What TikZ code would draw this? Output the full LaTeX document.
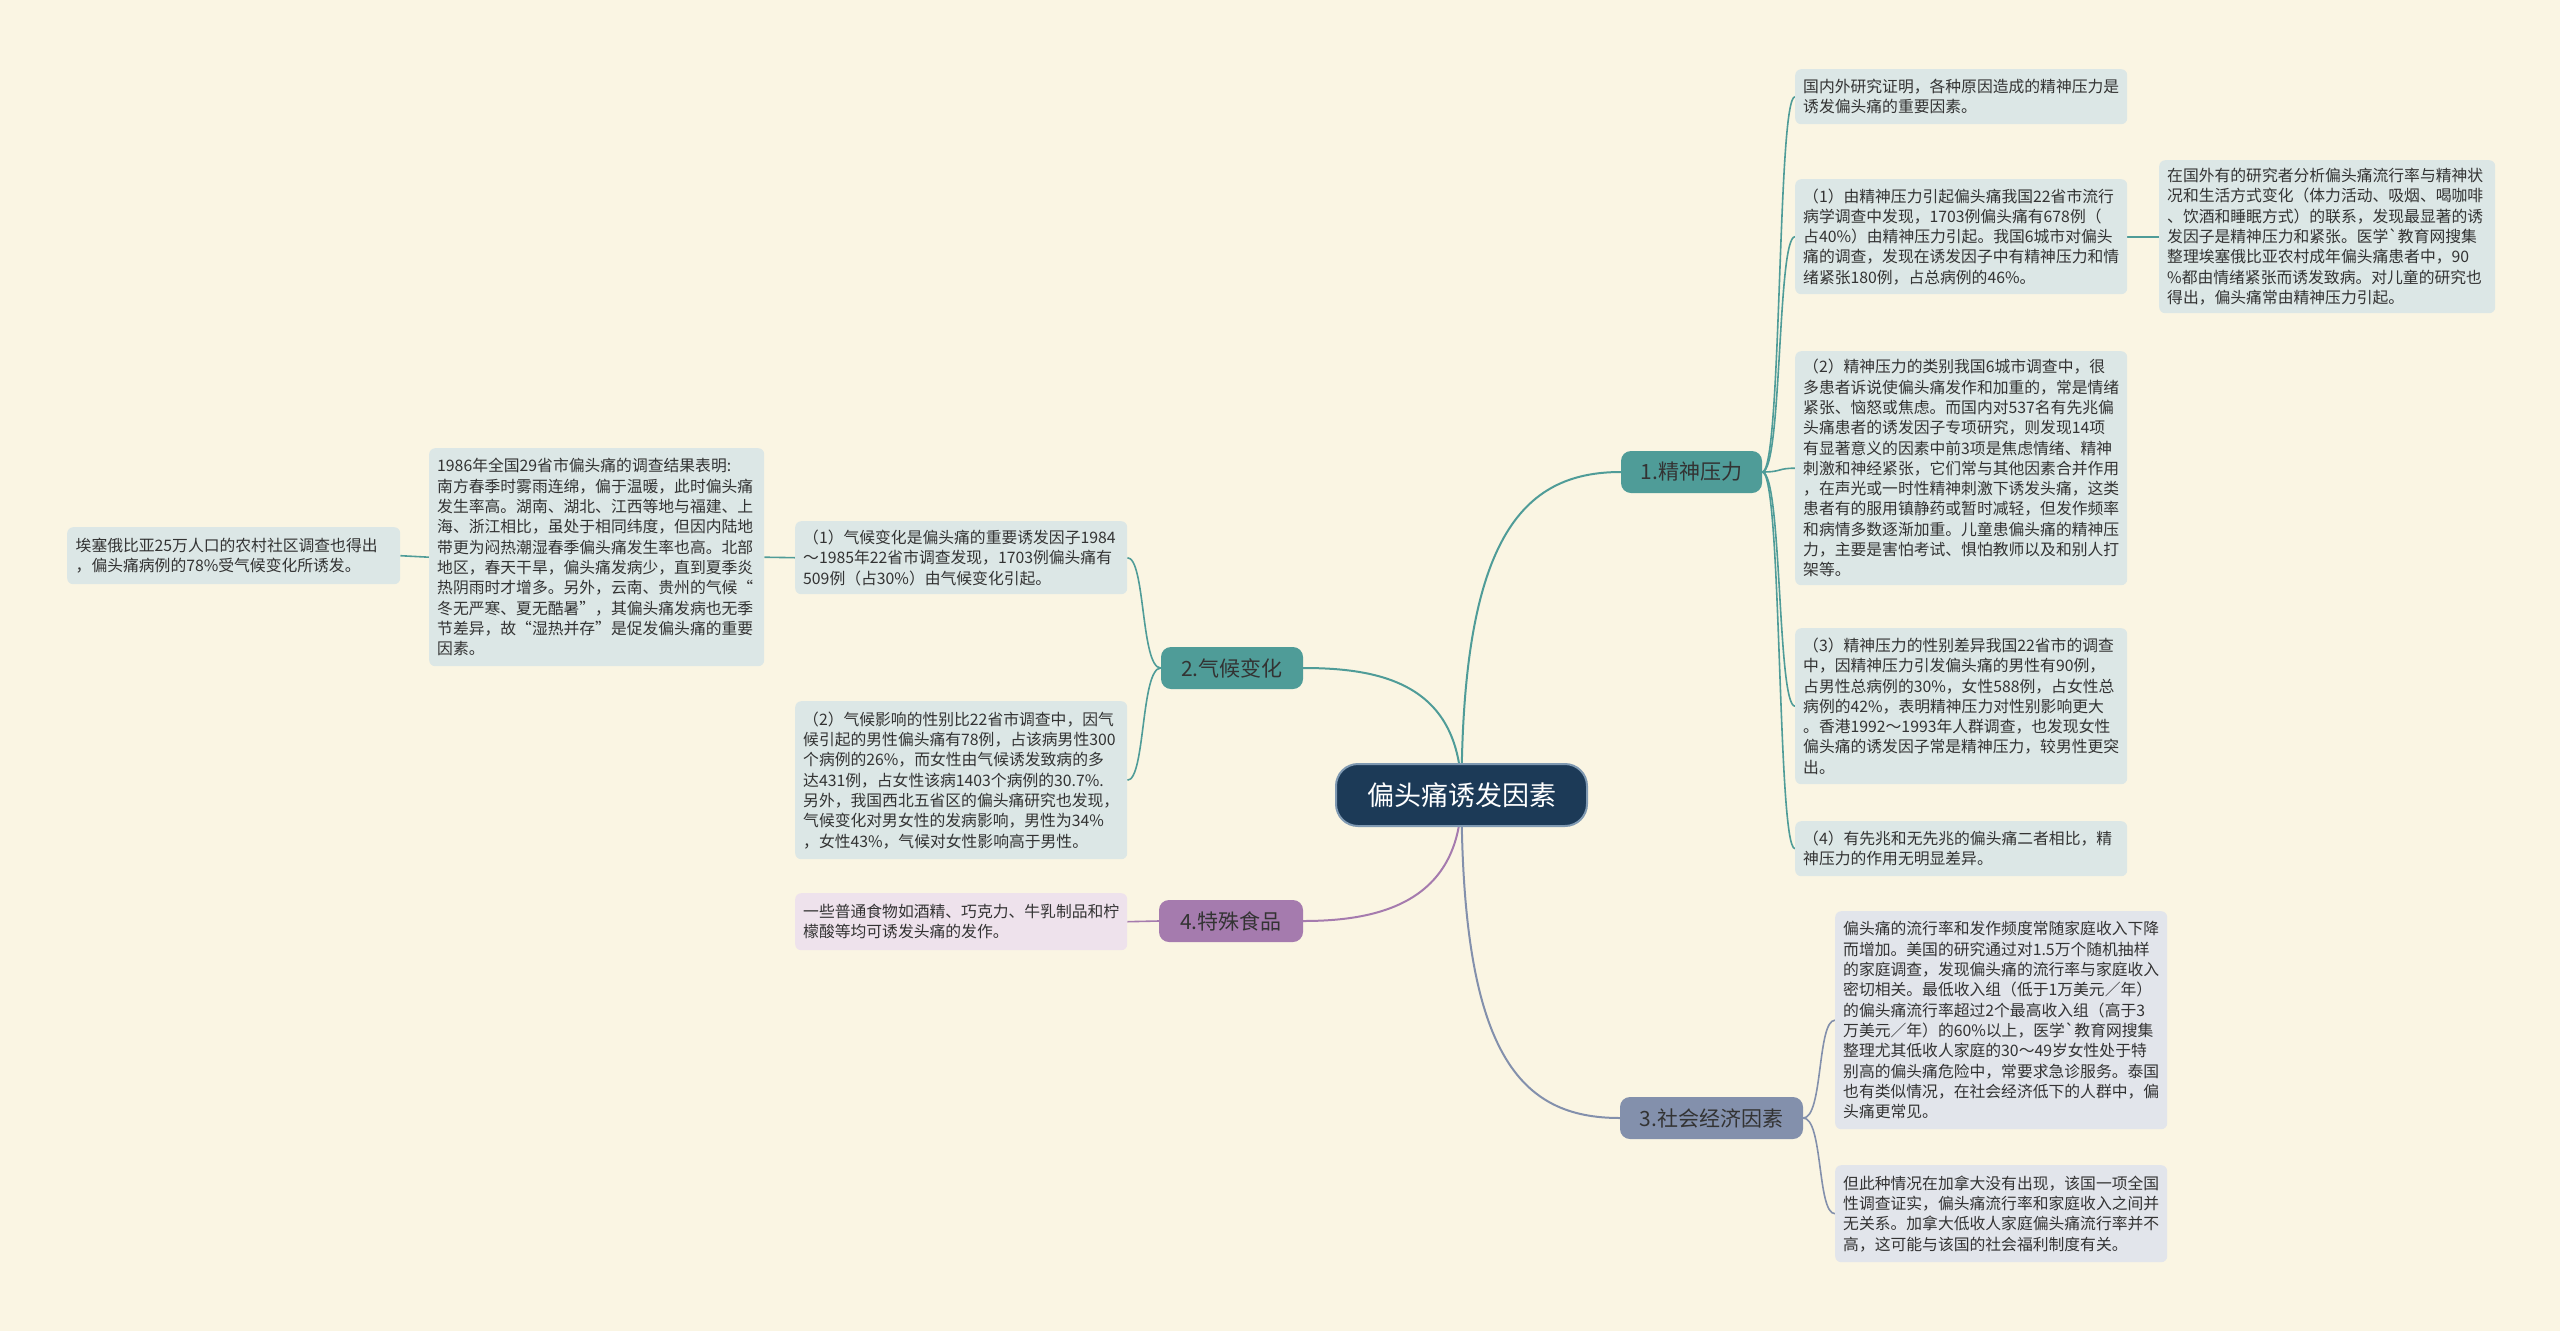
\documentclass[tikz,border=0pt]{standalone}
\usepackage{fontspec}
\newfontfamily\cjk{Noto Sans CJK SC}[Ligatures=TeXOff]
\pgfdeclarelayer{bg}
\pgfdeclarelayer{lines}
\pgfsetlayers{bg,lines,main}
\definecolor{bgc}{HTML}{FAF5E3}
\definecolor{boxc}{HTML}{DCE7E6}
\definecolor{foodbox}{HTML}{EEE2EC}
\definecolor{socbox}{HTML}{E2E5EB}
\definecolor{txtc}{HTML}{333333}
\definecolor{rootc}{HTML}{1C3A57}
\definecolor{rootbd}{HTML}{7F99B2}
\definecolor{tealc}{HTML}{4F9C98}
\definecolor{purc}{HTML}{A57BAE}
\definecolor{socc}{HTML}{8390AC}
\begin{document}
\begin{tikzpicture}[x=1pt,y=-1pt,
  tbox/.style={anchor=north west, fill=boxc, rounded corners=6pt, inner xsep=8pt, inner ysep=0pt,
    text width=316pt, minimum width=332pt, align=left, text=txtc,
    font=\cjk\fontsize{15.8}{20.3}\selectfont},
  rootnode/.style={fill=rootc, draw=rootbd, line width=2pt, rounded corners=22pt, text=white,
    minimum width=251pt, minimum height=62pt, inner sep=0pt, font=\cjk\fontsize{27}{30}\selectfont},
  branch/.style={rounded corners=10pt, minimum height=42pt, inner sep=0pt, text=txtc,
    font=\cjk\fontsize{21}{24}\selectfont},
  mainline/.style={line width=2pt},
  subline/.style={line width=1.6pt}
]
\begin{pgfonlayer}{bg}
\fill[bgc] (0,0) rectangle (2560,1331);
\end{pgfonlayer}
\useasboundingbox (0,0) rectangle (2560,1331);

% root and branches
\node[rootnode] (root) at (1461.5,795) {偏头痛诱发因素};
\node[branch, fill=tealc, minimum width=141pt] (b1) at (1691.5,472) {1.精神压力};
\node[branch, fill=tealc, minimum width=142pt] (b2) at (1232,668) {2.气候变化};
\node[branch, fill=purc, minimum width=144pt] (b4) at (1231,921) {4.特殊食品};
\node[branch, fill=socc, minimum width=183pt] (b3) at (1711.5,1118) {3.社会经济因素};

% branch 1 boxes
\node[tbox, minimum height=55pt] (a1) at (1795,69) {国内外研究证明，各种原因造成的精神压力是\\诱发偏头痛的重要因素。};
\node[tbox, minimum height=115pt] (a2) at (1795,179) {（1）由精神压力引起偏头痛我国22省市流行\\病学调查中发现，1703例偏头痛有678例（\\占40\%）由精神压力引起。我国6城市对偏头\\痛的调查，发现在诱发因子中有精神压力和情\\绪紧张180例，占总病例的46\%。};
\node[tbox, minimum height=153pt, text width=320pt, minimum width=336pt] (a2b) at (2159,160) {在国外有的研究者分析偏头痛流行率与精神状\\况和生活方式变化（体力活动、吸烟、喝咖啡\\、饮酒和睡眠方式）的联系，发现最显著的诱\\发因子是精神压力和紧张。医学`教育网搜集\\整理埃塞俄比亚农村成年偏头痛患者中，90\\\%都由情绪紧张而诱发致病。对儿童的研究也\\得出，偏头痛常由精神压力引起。};
\node[tbox, minimum height=234pt] (a3) at (1795,351) {（2）精神压力的类别我国6城市调查中，很\\多患者诉说使偏头痛发作和加重的，常是情绪\\紧张、恼怒或焦虑。而国内对537名有先兆偏\\头痛患者的诱发因子专项研究，则发现14项\\有显著意义的因素中前3项是焦虑情绪、精神\\刺激和神经紧张，它们常与其他因素合并作用\\，在声光或一时性精神刺激下诱发头痛，这类\\患者有的服用镇静药或暂时减轻，但发作频率\\和病情多数逐渐加重。儿童患偏头痛的精神压\\力，主要是害怕考试、惧怕教师以及和别人打\\架等。};
\node[tbox, minimum height=156pt] (a4) at (1795,628) {（3）精神压力的性别差异我国22省市的调查\\中，因精神压力引发偏头痛的男性有90例，\\占男性总病例的30\%，女性588例，占女性总\\病例的42\%，表明精神压力对性别影响更大\\。香港1992～1993年人群调查，也发现女性\\偏头痛的诱发因子常是精神压力，较男性更突\\出。};
\node[tbox, minimum height=55pt] (a5) at (1795,821) {（4）有先兆和无先兆的偏头痛二者相比，精\\神压力的作用无明显差异。};

% branch 3 boxes
\node[tbox, fill=socbox, minimum height=218pt] (s1) at (1835,911) {偏头痛的流行率和发作频度常随家庭收入下降\\而增加。美国的研究通过对1.5万个随机抽样\\的家庭调查，发现偏头痛的流行率与家庭收入\\密切相关。最低收入组（低于1万美元／年）\\的偏头痛流行率超过2个最高收入组（高于3\\万美元／年）的60\%以上，医学`教育网搜集\\整理尤其低收人家庭的30～49岁女性处于特\\别高的偏头痛危险中，常要求急诊服务。泰国\\也有类似情况，在社会经济低下的人群中，偏\\头痛更常见。};
\node[tbox, fill=socbox, minimum height=97pt] (s2) at (1835,1165) {但此种情况在加拿大没有出现，该国一项全国\\性调查证实，偏头痛流行率和家庭收入之间并\\无关系。加拿大低收人家庭偏头痛流行率并不\\高，这可能与该国的社会福利制度有关。};

% branch 2 boxes
\node[tbox, minimum height=73pt] (c1) at (795,521) {（1）气候变化是偏头痛的重要诱发因子1984\\～1985年22省市调查发现，1703例偏头痛有\\509例（占30\%）由气候变化引起。};
\node[tbox, minimum height=158pt] (c2) at (795,701) {（2）气候影响的性别比22省市调查中，因气\\候引起的男性偏头痛有78例，占该病男性300\\个病例的26\%，而女性由气候诱发致病的多\\达431例，占女性该病1403个病例的30.7\%.\\另外，我国西北五省区的偏头痛研究也发现，\\气候变化对男女性的发病影响，男性为34\%\\，女性43\%，气候对女性影响高于男性。};
\node[tbox, minimum height=218pt, text width=319pt, minimum width=335pt] (cl) at (429,448) {1986年全国29省市偏头痛的调查结果表明:\\南方春季时雾雨连绵，偏于温暖，此时偏头痛\\发生率高。湖南、湖北、江西等地与福建、上\\海、浙江相比，虽处于相同纬度，但因内陆地\\带更为闷热潮湿春季偏头痛发生率也高。北部\\地区，春天干旱，偏头痛发病少，直到夏季炎\\热阴雨时才增多。另外，云南、贵州的气候“\\冬无严寒、夏无酷暑”，其偏头痛发病也无季\\节差异，故“湿热并存”是促发偏头痛的重要\\因素。};
\node[tbox, minimum height=57pt, minimum width=333pt] (cf) at (67,527) {埃塞俄比亚25万人口的农村社区调查也得出\\，偏头痛病例的78\%受气候变化所诱发。};

% branch 4 box
\node[tbox, fill=foodbox, minimum height=57pt] (f1) at (795,893) {一些普通食物如酒精、巧克力、牛乳制品和柠\\檬酸等均可诱发头痛的发作。};

% connectors
\begin{pgfonlayer}{lines}
\draw[mainline, tealc] (root.center) .. controls +(0,-255) and +(-100,0) .. (b1.west);
\draw[mainline, tealc] (root.center) .. controls +(0,-110) and +(80,0) .. (b2.east);
\draw[mainline, purc] (root.center) .. controls +(0,105) and +(80,0) .. (b4.east);
\draw[mainline, socc] (root.center) .. controls +(0,260) and +(-100,0) .. (b3.west);

\foreach \t in {a1,a2,a3,a4,a5}
  \draw[subline, tealc] (b1.east) .. controls +(20,0) and +(-18,0) .. (\t.west);
\draw[subline, tealc] (a2.east) -- (a2b.west);
\foreach \t in {s1,s2}
  \draw[subline, socc] (b3.east) .. controls +(20,0) and +(-18,0) .. (\t.west);
\foreach \t in {c1,c2}
  \draw[subline, tealc] (b2.west) .. controls +(-20,0) and +(18,0) .. (\t.east);
\draw[subline, tealc] (c1.west) -- (cl.east);
\draw[subline, tealc] (cl.west) -- (cf.east);
\draw[subline, purc] (b4.west) -- (f1.east);
\end{pgfonlayer}
\end{tikzpicture}
\end{document}
